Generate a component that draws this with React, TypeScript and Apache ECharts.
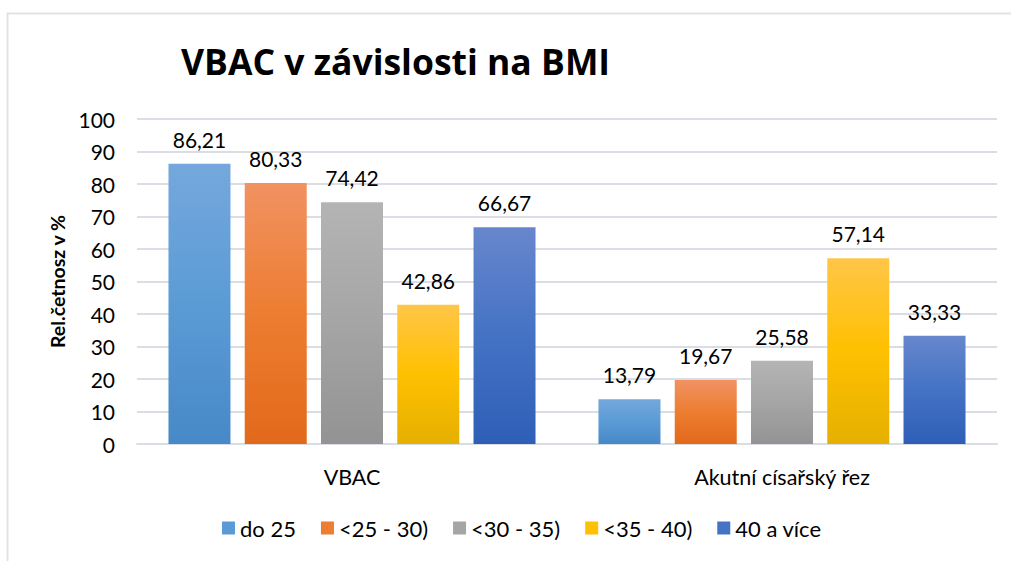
import React, { useEffect, useRef } from "react";
import * as echarts from "echarts";

const categories = ["VBAC", "Akutní císařský řez"];
const seriesNames = ["do 25", "<25 - 30)", "<30 - 35)", "<35 - 40)", "40 a více"];
const values = [
  [86.21, 13.79],
  [80.33, 19.67],
  [74.42, 25.58],
  [42.86, 57.14],
  [66.67, 33.33],
];
const gradients = [
  ["#74a8dd", "#5b9bd5", "#4788c8"],
  ["#f19262", "#ed7d31", "#e2691b"],
  ["#b4b4b4", "#a5a5a5", "#939393"],
  ["#ffc648", "#ffc000", "#e5b000"],
  ["#6787cd", "#4472c4", "#2f5eb7"],
];
const legendColors = ["#5b9bd5", "#ed7d31", "#a5a5a5", "#ffc000", "#4472c4"];

const FONT = "Lato, 'Open Sans', sans-serif";
const TITLE_FONT = "'Open Sans', Lato, sans-serif";

export default function App() {
  const ref = useRef<HTMLDivElement>(null);
  useEffect(() => {
    if (!ref.current) return;
    const chart = echarts.init(ref.current, undefined, { renderer: "svg" });
    const fmt = (v: number) => v.toFixed(2).replace(".", ",");
    chart.setOption({
      animation: false,
      backgroundColor: "#ffffff",
      textStyle: { fontFamily: FONT },
      title: {
        text: "VBAC v závislosti na BMI",
        left: 176,
        top: 38,
        textStyle: { fontFamily: TITLE_FONT, fontSize: 35.5, fontWeight: "bold", color: "#000" },
      },
      graphic: [
        {
          type: "rect",
          shape: { x: 7.5, y: 13.5, width: 1100, height: 700 },
          style: { fill: "none", stroke: "#dfe3e8", lineWidth: 2 },
          silent: true,
        },
      ],
      legend: {
        bottom: 17,
        left: 217,
        itemWidth: 13,
        itemHeight: 13,
        itemGap: 25,
        icon: "rect",
        textStyle: { fontFamily: FONT, fontSize: 22, color: "#000" },
        data: seriesNames.map((n, i) => ({ name: n, itemStyle: { color: legendColors[i] } })),
      },
      grid: { left: 137, right: 14, top: 119, bottom: 117, containLabel: false },
      xAxis: {
        type: "category",
        data: categories,
        axisTick: { show: false },
        axisLine: { show: true, lineStyle: { color: "#dadee4", width: 2 } },
        axisLabel: { fontFamily: FONT, fontSize: 21.5, color: "#000", margin: 22 },
      },
      yAxis: {
        type: "value",
        min: 0,
        max: 100,
        interval: 10,
        name: "Rel.četnosz v %",
        nameLocation: "middle",
        nameGap: 70,
        nameTextStyle: { fontFamily: FONT, fontSize: 19.5, fontWeight: "bold", color: "#000" },
        axisLabel: { fontFamily: FONT, fontSize: 21, color: "#000", margin: 22 },
        splitLine: { lineStyle: { color: "#dadee4", width: 2 } },
        axisLine: { show: false },
        axisTick: { show: false },
      },
      series: seriesNames.map((name, i) => ({
        name,
        type: "bar",
        data: values[i],
        barWidth: 62,
        barGap: "23%",
        itemStyle: {
          color: new echarts.graphic.LinearGradient(0, 0, 0, 1, [
            { offset: 0, color: gradients[i][0] },
            { offset: 0.5, color: gradients[i][1] },
            { offset: 1, color: gradients[i][2] },
          ]),
        },
        label: {
          show: true,
          position: "top",
          distance: 14,
          fontFamily: FONT,
          fontSize: 21,
          color: "#000",
          formatter: (p: any) => fmt(p.value),
        },
      })),
    });
    return () => chart.dispose();
  }, []);
  return (
    <div
      ref={ref}
      style={{ position: "fixed", left: 0, top: 0, width: 1011, height: 561 }}
    />
  );
}
